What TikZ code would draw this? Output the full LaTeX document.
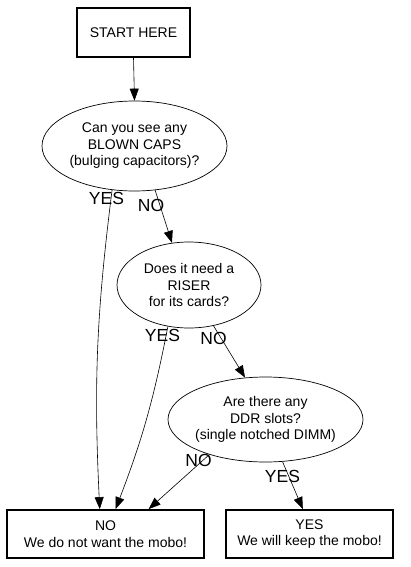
\documentclass[tikz,border=0pt]{standalone}
\usepackage{fontspec}
\setmainfont{Liberation Sans}
\usetikzlibrary{shapes.geometric,arrows.meta}
\begin{document}
\begin{tikzpicture}[x=1pt,y=1pt,
  box/.style={draw,line width=1.8pt,inner sep=0pt,minimum height=48pt,align=center,font=\fontsize{14}{16.5}\selectfont},
  ell/.style={draw,ellipse,line width=0.7pt,inner sep=0pt},
  txt/.style={align=center,inner sep=0pt,font=\fontsize{14}{16.5}\selectfont},
  lbl/.style={inner sep=0pt,font=\fontsize{17.5}{18}\selectfont},
  edge/.style={line width=0.6pt,-{Triangle[length=12pt,width=9pt]}}]
\useasboundingbox (0,0) rectangle (410,-567);
\fill[white] (0,0) rectangle (410,-567);
\node[box,minimum width=113pt,minimum height=49pt] (start) at (133.5,-32.5) {START HERE};
\node[ell,minimum width=185pt,minimum height=90pt] (e1) at (134.5,-146) {};
\node[txt] (t1) at (e1) {Can you see any\\BLOWN CAPS\\(bulging capacitors)?};
\node[ell,minimum width=144pt,minimum height=86pt] (e2) at (189,-285) {};
\node[txt] (t2) at (e2) {Does it need a\\RISER\\for its cards?};
\node[ell,minimum width=195pt,minimum height=85pt] (e3) at (265.5,-419.5) {};
\node[txt] (t3) at (e3) {Are there any\\DDR slots?\\(single notched DIMM)};
\node[box,minimum width=197pt] (nobox) at (105.5,-534) {NO\\We do not want the mobo!};
\node[box,minimum width=167pt] (yesbox) at (309.5,-534) {YES\\We will keep the mobo!};

\draw[edge] (start.south) -- (e1.north);
\draw[edge] (e1.243) to[bend right=5] (nobox.103);
\draw[edge] (e1.295) -- (e2.112);
\draw[edge] (e2.243) to[bend left=5] (nobox.68);
\draw[edge] (e2.301) -- (e3.116);
\draw[edge] (e3.212) -- (nobox.30);
\draw[edge] (e3.292) -- (yesbox.105);

\node[lbl] (l1) at (106.5,-198.5) {YES};
\node[lbl] (l2) at (151,-205) {NO};
\node[lbl] (l3) at (162.5,-335) {YES};
\node[lbl] (l4) at (213.5,-338) {NO};
\node[lbl] (l5) at (198.5,-460) {NO};
\node[lbl] (l6) at (282.5,-476.5) {YES};
\end{tikzpicture}
\end{document}
